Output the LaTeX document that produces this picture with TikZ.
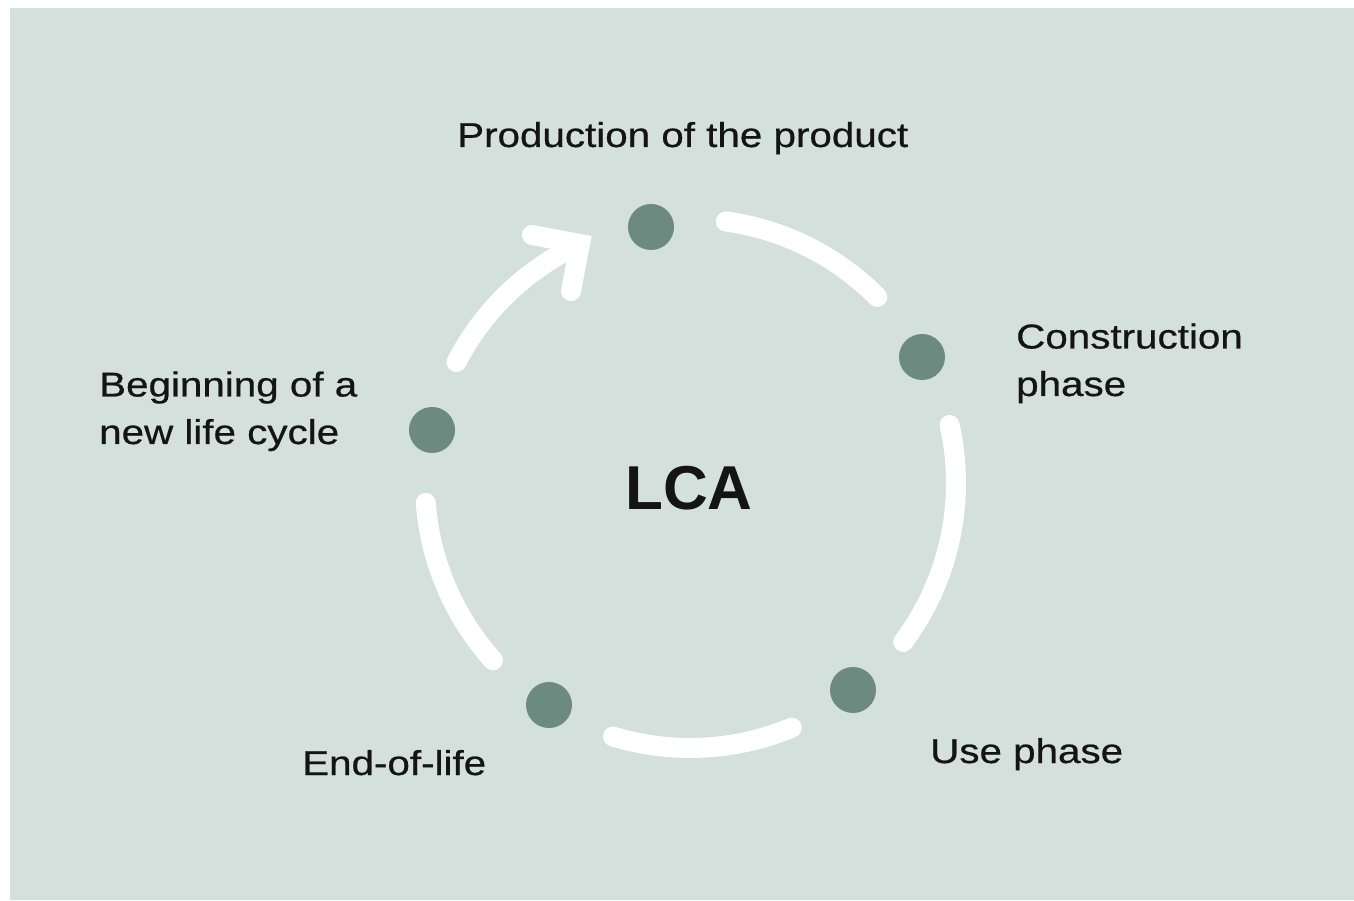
\documentclass[tikz,border=0pt]{standalone}
\usepackage{fontspec}
\usetikzlibrary{calc}
\newfontfamily\lab[FakeStretch=1.17,FakeBold=0.6]{Liberation Sans}
\newfontfamily\lcaf{Liberation Sans}
\definecolor{bg}{RGB}{211,224,219}
\definecolor{dotc}{RGB}{108,138,127}
\definecolor{ink}{RGB}{20,20,20}
\begin{document}
\begin{tikzpicture}[x=1pt,y=1pt,
  ring/.style={draw=white, line width=20pt, line cap=round, line join=round},
  stage/.style={circle, fill=dotc, minimum size=46pt, inner sep=0pt},
  lbl/.style={inner sep=0pt, text=ink, font=\lab\fontsize{34.5}{47.5}\selectfont, align=left, anchor=base west},
  big/.style={inner sep=0pt, text=ink, font=\lcaf\bfseries\fontsize{62}{62}\selectfont, anchor=base}]
\useasboundingbox (0,0) rectangle (1354,900);
\fill[white] (0,0) rectangle (1354,900);
\fill[bg] (10,0) rectangle (1354,892);
\coordinate (C) at (690,417);
% stage dots
\node[stage] (d1) at (651,673) {};
\node[stage] (d2) at (922,543) {};
\node[stage] (d3) at (853,210) {};
\node[stage] (d4) at (549,195) {};
\node[stage] (d5) at (432,470) {};
% arc end points
\path (C) ++(82.2:264) coordinate (a1s);
\path (C) ++(12.6:266) coordinate (a2s);
\path (C) ++(-67.4:265) coordinate (a3s);
\path (C) ++(222:265) coordinate (a4s);
\path (C) ++(152.6:263) coordinate (a5s);
\coordinate (tip) at (580,656);
\coordinate (w1) at (532,665);
\coordinate (w2) at (571,609);
% ring segments
\draw[ring] (a1s) arc[start angle=82.2, end angle=44.8, radius=264];
\draw[ring] (a2s) arc[start angle=12.6, end angle=-36.7, radius=266];
\draw[ring] (a3s) arc[start angle=-67.4, end angle=-106.9, radius=265];
\draw[ring] (a4s) arc[start angle=222, end angle=184.3, radius=265];
\draw[ring] (a5s) arc[start angle=152.6, end angle=116, radius=263];
\draw[ring, line join=miter] (w1) -- (tip) -- (w2);
% labels (base anchor = baseline of the last line)
\node[lbl] (t1) at (457,753) {Production of the product};
\node[lbl] (t2) at (1016,504) {Construction\\phase};
\node[lbl] (t3) at (930,137) {Use phase};
\node[lbl] (t4) at (302,125) {End-of-life};
\node[lbl] (t5) at (99,456) {Beginning of a\\new life cycle};
\node[big] (lca) at (689,390) {LCA};
\end{tikzpicture}
\end{document}
